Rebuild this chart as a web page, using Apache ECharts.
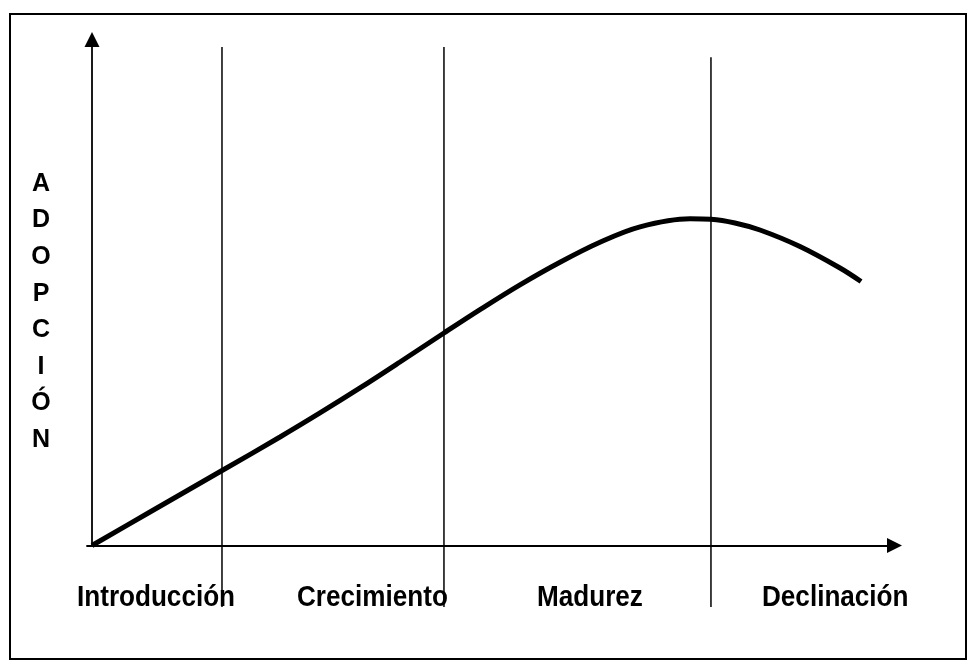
<!DOCTYPE html>
<html><head><meta charset="utf-8">
<script src="https://cdn.jsdelivr.net/npm/echarts@6/dist/echarts.min.js"></script>
<style>html,body{margin:0;padding:0;background:#fff}#c{width:969px;height:662px}</style>
</head><body><div id="c"></div>
<script>
// Adoption curve (time units 0-100, adoption units 0-100)
const curveX = [0, 7.23, 16.32, 23.43, 28.41, 33.40, 38.38, 43.86, 48.35, 53.33, 58.32, 63.30, 68.29, 74.52, 77.13, 80.12, 83.24, 88.22, 93.21, 95.83];
const curveY = [0, 6.62, 14.92, 21.44, 26.19, 31.13, 36.26, 42.00, 46.62, 51.52, 55.99, 59.94, 62.98, 64.57, 64.47, 63.74, 62.35, 59.09, 54.84, 52.17];
// Phase boundaries
const boundaryX = [16.2, 43.86, 77.13];
const boundaryTop = [98.5, 98.5, 96.5];
const boundaryBottom = -12.15;
const phaseLabels = ['Introducción', 'Crecimiento', 'Madurez', 'Declinación'];
const yTitle = 'ADOPCIÓN';

const chart = echarts.init(document.getElementById('c'), null, {renderer: 'canvas'});

const curveData = curveX.map((x, i) => [x, curveY[i]]);
const series = [{
  type: 'line', data: curveData, smooth: 0.35, showSymbol: false, clip: false, silent: true,
  lineStyle: {color: '#000', width: 5}, z: 5
}];
boundaryX.forEach((x, i) => {
  series.push({
    type: 'line', data: [[x, boundaryBottom], [x, boundaryTop[i]]], showSymbol: false, clip: false, silent: true,
    lineStyle: {color: '#000', width: 1.5}, z: 4
  });
});

const labelLeft = [77, 297, 537, 762];
const graphics = [{
  type: 'rect', shape: {x: 10, y: 14, width: 956, height: 645}, silent: true,
  style: {fill: 'none', stroke: '#000', lineWidth: 2}, z: 0
}, {
  type: 'text', x: 41, y: 312, silent: true,
  style: {text: yTitle.split('').join('\n'), fill: '#000',
    fontFamily: '"Liberation Sans", Arial, sans-serif', fontWeight: 'bold', fontSize: 25, lineHeight: 36.6,
    align: 'center', verticalAlign: 'middle'}
}];
phaseLabels.forEach((t, i) => {
  graphics.push({
    type: 'text', x: labelLeft[i], y: 598, scaleX: 0.9, silent: true,
    style: {text: t, fill: '#000', align: 'left', verticalAlign: 'middle',
      fontFamily: '"Liberation Sans", Arial, sans-serif', fontWeight: 'bold', fontSize: 29}
  });
});

chart.setOption({
  animation: false,
  backgroundColor: '#fff',
  grid: {left: 87, right: 74.5, top: 39.5, bottom: 116.5},
  xAxis: {
    type: 'value', min: -0.62, max: 100,
    axisLine: {show: true, symbol: ['none', 'triangle'], symbolSize: [15, 15], lineStyle: {color: '#000', width: 1.8}},
    axisTick: {show: false}, axisLabel: {show: false}, splitLine: {show: false}
  },
  yAxis: {
    type: 'value', min: 0, max: 100,
    axisLine: {show: true, onZero: true, symbol: ['none', 'triangle'], symbolSize: [15, 15], lineStyle: {color: '#000', width: 1.8}},
    axisTick: {show: false}, axisLabel: {show: false}, splitLine: {show: false}
  },
  series: series,
  graphic: graphics
});
</script>
</body></html>
